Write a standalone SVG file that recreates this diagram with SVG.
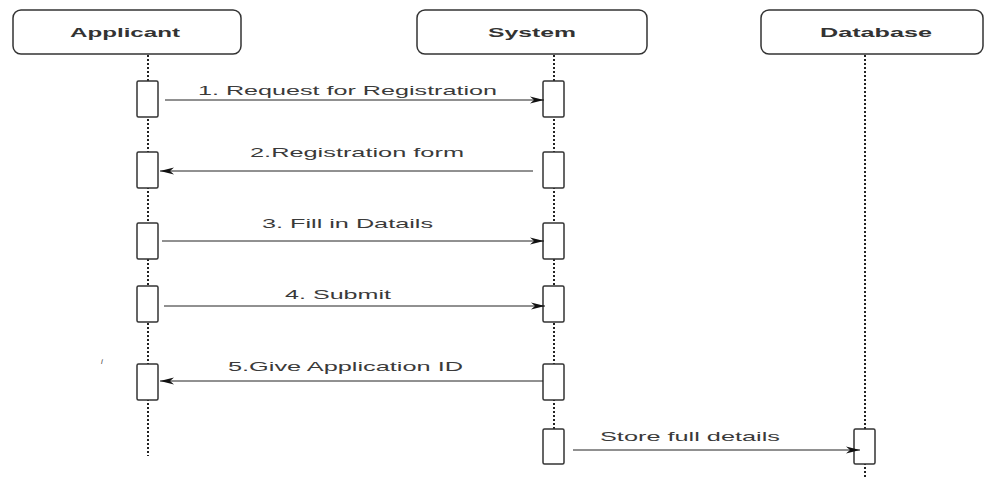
<svg xmlns="http://www.w3.org/2000/svg" width="984" height="477" viewBox="0 0 984 477">
<style>
.hdr{fill:#fff;stroke:#333;stroke-width:1.5}
.hdrt{font-family:"Liberation Sans",Arial,sans-serif;font-size:13px;font-weight:bold;fill:#333}
.life{stroke:#222;stroke-width:2;stroke-dasharray:2 2;fill:none}
.act{fill:#fff;stroke:#333;stroke-width:1.5}
.msg{stroke:#222;stroke-width:1;fill:none;marker-end:url(#ah)}
.lbl{font-family:"Liberation Sans",Arial,sans-serif;font-size:13px;fill:#3a3a3a}
</style>
<defs>
<marker id="ah" viewBox="0 0 14 8" refX="14" refY="4" markerWidth="14" markerHeight="8" markerUnits="userSpaceOnUse" orient="auto">
<path d="M0,0.5 L14,4 L0,7.5 L4,4 Z" fill="#111"/>
</marker>
</defs>
<rect width="984" height="477" fill="#fff"/>
<g id="lifelines">
<line class="life" x1="148" y1="55" x2="148" y2="456"/>
<line class="life" x1="554" y1="55" x2="554" y2="430"/>
<line class="life" x1="865" y1="55" x2="865" y2="477"/>
</g>
<g id="applicant">
<rect class="hdr" x="13" y="10" width="228" height="44" rx="8"/>
<text class="hdrt" x="70" y="37" textLength="110" lengthAdjust="spacingAndGlyphs">Applicant</text>
</g>
<g id="system">
<rect class="hdr" x="417" y="10" width="230" height="44" rx="8"/>
<text class="hdrt" x="488" y="37" textLength="88" lengthAdjust="spacingAndGlyphs">System</text>
</g>
<g id="database">
<rect class="hdr" x="761" y="10" width="222" height="44" rx="8"/>
<text class="hdrt" x="820" y="37" textLength="112" lengthAdjust="spacingAndGlyphs">Database</text>
</g>
<g id="activations">
<rect class="act" x="137" y="81" width="21" height="36" rx="1.5"/>
<rect class="act" x="543" y="81" width="21" height="36" rx="1.5"/>
<rect class="act" x="137" y="152" width="21" height="36" rx="1.5"/>
<rect class="act" x="543" y="152" width="21" height="36" rx="1.5"/>
<rect class="act" x="137" y="223" width="21" height="36" rx="1.5"/>
<rect class="act" x="543" y="223" width="21" height="36" rx="1.5"/>
<rect class="act" x="137" y="286" width="21" height="36" rx="1.5"/>
<rect class="act" x="543" y="286" width="21" height="36" rx="1.5"/>
<rect class="act" x="137" y="364" width="21" height="36" rx="1.5"/>
<rect class="act" x="543" y="364" width="21" height="36" rx="1.5"/>
<rect class="act" x="543" y="429" width="21" height="35" rx="1.5"/>
<rect class="act" x="854" y="429" width="21" height="35" rx="1.5"/>
</g>
<g id="connectors">
<line class="msg" x1="165" y1="100" x2="544" y2="100"/>
<line class="msg" x1="533" y1="171" x2="160" y2="171"/>
<line class="msg" x1="162" y1="241" x2="544" y2="241"/>
<line class="msg" x1="164" y1="306" x2="545" y2="306"/>
<line class="msg" x1="543" y1="381" x2="160" y2="381"/>
<line class="msg" x1="573" y1="450" x2="860" y2="450"/>
</g>
<g id="labels">
<text class="lbl" x="198" y="95" textLength="299" lengthAdjust="spacingAndGlyphs">1. Request for Registration</text>
<text class="lbl" x="250" y="157" textLength="214" lengthAdjust="spacingAndGlyphs">2.Registration form</text>
<text class="lbl" x="262" y="228" textLength="171" lengthAdjust="spacingAndGlyphs">3. Fill in Datails</text>
<text class="lbl" x="285" y="299" textLength="106" lengthAdjust="spacingAndGlyphs">4. Submit</text>
<text class="lbl" x="228" y="371" textLength="235" lengthAdjust="spacingAndGlyphs">5.Give Application ID</text>
<text class="lbl" x="600" y="441" textLength="180" lengthAdjust="spacingAndGlyphs">Store full details</text>
<text x="101" y="364" font-family="Liberation Sans,Arial,sans-serif" font-size="8" font-style="italic" fill="#444">i</text>
</g>
</svg>
